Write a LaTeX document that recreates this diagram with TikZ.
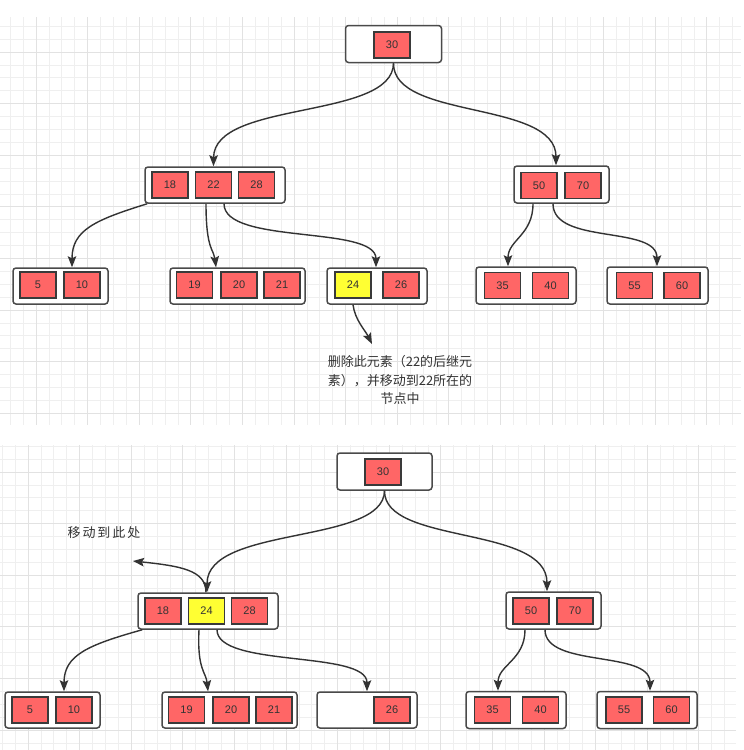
\documentclass[tikz,border=0pt]{standalone}
\usepackage{fontspec}
\setmainfont{Liberation Sans}
\newfontfamily\cjk{Noto Sans CJK SC}
\newfontfamily\cjkwide[LetterSpace=15]{Noto Sans CJK SC}
\usetikzlibrary{arrows.meta}
\definecolor{keyred}{HTML}{FF6666}
\definecolor{keyyellow}{HTML}{FFFF33}
\definecolor{keyline}{HTML}{3A3A3A}
\definecolor{boxline}{HTML}{4A4A4A}
\definecolor{edgecol}{HTML}{333333}
\definecolor{txtcol}{HTML}{333333}
\definecolor{gminor}{HTML}{EFEFEF}
\definecolor{gmajor}{HTML}{E2E2E2}
\tikzset{
  outerbox/.style={draw=boxline, fill=white, rounded corners=3pt, line width=1.5pt, inner sep=0pt},
  keybox/.style={draw=keyline, fill=keyred, line width=1.2pt, minimum width=36pt, minimum height=26pt, inner sep=0pt, font=\fontsize{11}{13}\selectfont, text=txtcol},
  yelbox/.style={keybox, fill=keyyellow},
  edge/.style={draw=edgecol, line width=1.4pt, -{Stealth[length=11pt,width=8.5pt,inset=2pt]}},
  note/.style={font=\cjk\fontsize{13}{18.5}\selectfont, text=txtcol, align=center, inner sep=0pt},
  notewide/.style={font=\cjkwide\fontsize{13}{18}\selectfont, text=txtcol, align=center, inner sep=0pt},
  gridminor/.style={draw=gminor, line width=0.8pt},
  gridmajor/.style={draw=gmajor, line width=1pt}
}
\begin{document}
\begin{tikzpicture}[x=1pt,y=-1pt]
\useasboundingbox (0,0) rectangle (744,750);
\fill[white] (0,0) rectangle (744,750);
% grid top
\begin{scope}
\clip (0,17) rectangle (741,425);
\foreach \i in {-3,...,58} { \draw[gridminor] ({36+12.9*\i},17) -- ({36+12.9*\i},425); }
\foreach \i in {-3,...,33} { \draw[gridminor] (0,{52+12.9*\i}) -- (741,{52+12.9*\i}); }
\foreach \i in {-1,...,15} { \draw[gridmajor] ({36+51.6*\i},17) -- ({36+51.6*\i},425); }
\foreach \i in {-1,...,8} { \draw[gridmajor] (0,{52+51.6*\i}) -- (741,{52+51.6*\i}); }
\end{scope}
% grid bottom
\begin{scope}
\clip (0,445) rectangle (736,750);
\foreach \i in {-3,...,58} { \draw[gridminor] ({28+12.9*\i},445) -- ({28+12.9*\i},750); }
\foreach \i in {-3,...,26} { \draw[gridminor] (0,{472+12.9*\i}) -- (736,{472+12.9*\i}); }
\foreach \i in {-1,...,15} { \draw[gridmajor] ({28+51.6*\i},445) -- ({28+51.6*\i},750); }
\foreach \i in {-1,...,6} { \draw[gridmajor] (0,{472+51.6*\i}) -- (736,{472+51.6*\i}); }
\end{scope}

% ===== top diagram =====
\node[outerbox, minimum width=96pt, minimum height=37pt] (R1) at (393.5,44) {};
\node[keybox] (a30) at (392,45) {30};
\node[outerbox, minimum width=140pt, minimum height=36pt] (M1) at (215,185) {};
\node[keybox] (a18) at (170,185) {18};
\node[keybox] (a22) at (213.5,185) {22};
\node[keybox] (a28) at (256.5,185) {28};
\node[outerbox, minimum width=95pt, minimum height=37pt] (N1) at (561.5,184.5) {};
\node[keybox] (a50) at (539,185.5) {50};
\node[keybox] (a70) at (583,185.5) {70};
\node[outerbox, minimum width=95pt, minimum height=36pt] (La) at (60.5,286) {};
\node[keybox] (a5) at (38,285) {5};
\node[keybox] (a10) at (82,285) {10};
\node[outerbox, minimum width=135pt, minimum height=36pt] (Lb) at (237.5,286) {};
\node[keybox] (a19) at (194.5,285) {19};
\node[keybox] (a20) at (239,285) {20};
\node[keybox] (a21) at (282,285) {21};
\node[outerbox, minimum width=100pt, minimum height=36pt] (Lc) at (377,286) {};
\node[yelbox] (a24) at (353,285) {24};
\node[keybox] (a26) at (401,285) {26};
\node[outerbox, minimum width=100pt, minimum height=37pt] (Ld) at (526,285.5) {};
\node[keybox] (a35) at (502.5,285.5) {35};
\node[keybox] (a40) at (550.5,285.5) {40};
\node[outerbox, minimum width=101pt, minimum height=37pt] (Le) at (657.5,285.5) {};
\node[keybox] (a55) at (634.5,285.5) {55};
\node[keybox] (a60) at (682,285.5) {60};
\coordinate (t1) at (372,344);
\node[note] (txt1) at (400,380) {删除此元素（22的后继元\\素），并移动到22所在的\\节点中};

\draw[edge] (R1.south) .. controls (393,120) and (214,100) .. (a22.north |- M1.north);
\draw[edge] (R1.south) .. controls (393,120) and (556,100) .. ([xshift=-5.5pt]N1.north);
\draw[edge] ([xshift=3pt]M1.south west) .. controls (95,220) and (72,230) .. ([xshift=11.5pt]La.north);
\draw[edge] ([xshift=-9pt]M1.south) .. controls (206,250) and (214,250) .. ([xshift=-21.5pt]Lb.north);
\draw[edge] ([xshift=9pt]M1.south) .. controls (224,245) and (376,225) .. ([xshift=-1pt]Lc.north);
\draw[edge] (a24.south |- Lc.south) .. controls (355,320) and (365,330) .. (t1);
\draw[edge] ([xshift=-28.5pt]N1.south) .. controls (533,235) and (508,240) .. ([xshift=-18pt]Ld.north);
\draw[edge] ([xshift=-8.5pt]N1.south) .. controls (553,245) and (657,225) .. ([xshift=-0.5pt]Le.north);

% ===== bottom diagram =====
\node[outerbox, minimum width=95pt, minimum height=37pt] (R2) at (384.5,471.5) {};
\node[keybox] (b30) at (383,472) {30};
\node[outerbox, minimum width=140pt, minimum height=36pt] (M2) at (208,611) {};
\node[keybox] (b18) at (163,611) {18};
\node[yelbox] (b24) at (206.5,611) {24};
\node[keybox] (b28) at (249.5,611) {28};
\node[outerbox, minimum width=95pt, minimum height=37pt] (N2) at (553.5,610.5) {};
\node[keybox] (b50) at (531,611) {50};
\node[keybox] (b70) at (575,611) {70};
\node[outerbox, minimum width=95pt, minimum height=36pt] (Ka) at (52.5,710) {};
\node[keybox] (b5) at (30,710) {5};
\node[keybox] (b10) at (74,710) {10};
\node[outerbox, minimum width=135pt, minimum height=36pt] (Kb) at (229.5,710) {};
\node[keybox] (b19) at (186.5,710) {19};
\node[keybox] (b20) at (231,710) {20};
\node[keybox] (b21) at (274,710) {21};
\node[outerbox, minimum width=100pt, minimum height=36pt] (Kc) at (367,710) {};
\node[keybox] (b26) at (392,710) {26};
\node[outerbox, minimum width=100pt, minimum height=37pt] (Kd) at (516,710) {};
\node[keybox] (b35) at (492.5,710) {35};
\node[keybox] (b40) at (540.5,710) {40};
\node[outerbox, minimum width=100pt, minimum height=37pt] (Ke) at (647,710) {};
\node[keybox] (b55) at (624,710) {55};
\node[keybox] (b60) at (671.5,710) {60};
\coordinate (t2) at (133,561);
\node[notewide] (txt2) at (104,533) {移动到此处};

\draw[edge] (R2.south) .. controls (384,545) and (207,525) .. ([xshift=-1pt]M2.north);
\draw[edge] (R2.south) .. controls (384,545) and (547,525) .. ([xshift=-6.5pt]N2.north);
\draw[edge] ([xshift=-2pt]M2.north) .. controls (206,570) and (180,566) .. (t2);
\draw[edge] ([xshift=5pt]M2.south west) .. controls (88,645) and (64,655) .. ([xshift=11.5pt]Ka.north);
\draw[edge] ([xshift=-9pt]M2.south) .. controls (197,670) and (206,672) .. ([xshift=-21.5pt]Kb.north);
\draw[edge] ([xshift=9pt]M2.south) .. controls (217,668) and (367,650) .. (Kc.north);
\draw[edge] ([xshift=-28.5pt]N2.south) .. controls (525,660) and (498,665) .. ([xshift=-18pt]Kd.north);
\draw[edge] ([xshift=-8.5pt]N2.south) .. controls (545,668) and (650,650) .. ([xshift=3pt]Ke.north);
\end{tikzpicture}
\end{document}
